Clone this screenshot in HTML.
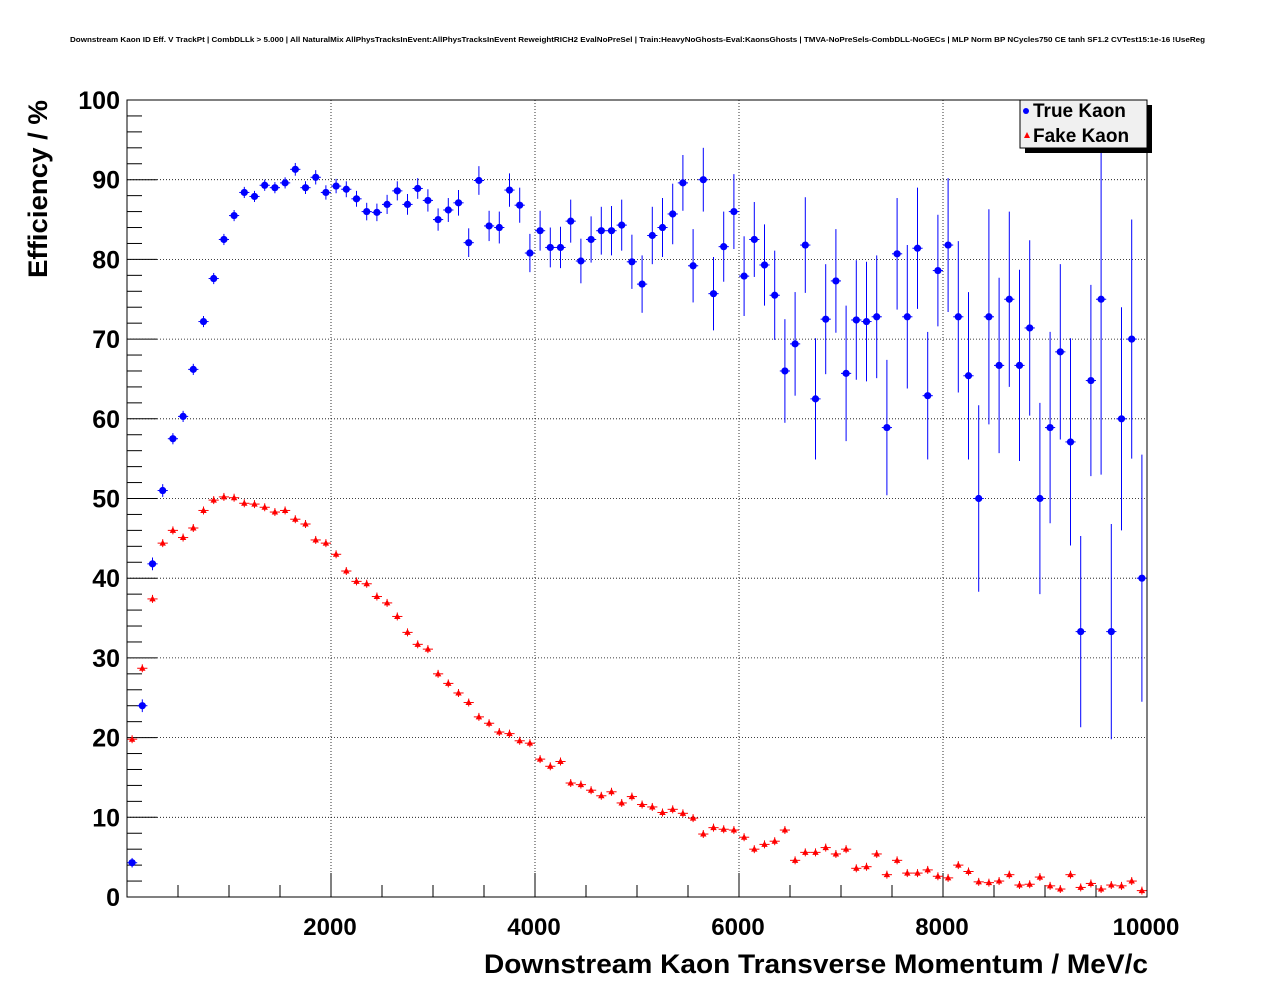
<!DOCTYPE html>
<html><head><meta charset="utf-8"><style>
html,body{margin:0;padding:0;background:#fff;}
svg{display:block;font-family:"Liberation Sans",Arial,sans-serif;}
</style></head><body>
<svg id="chart" width="1276" height="996" viewBox="0 0 1276 996">
<rect width="1276" height="996" fill="#fff"/>
<text x="70" y="42" font-size="7.5" font-weight="bold" textLength="1135" lengthAdjust="spacingAndGlyphs">Downstream Kaon ID Eff. V TrackPt | CombDLLk &gt; 5.000 | All NaturalMix AllPhysTracksInEvent:AllPhysTracksInEvent ReweightRICH2 EvalNoPreSel | Train:HeavyNoGhosts-Eval:KaonsGhosts | TMVA-NoPreSels-CombDLL-NoGECs | MLP Norm BP NCycles750 CE tanh SF1.2 CVTest15:1e-16 !UseReg</text>
<g id="grid"></g>
<g id="axes"></g>
<g id="series"></g>
<rect x="127" y="100" width="1020" height="797" fill="none" stroke="#000" stroke-width="1"/>
<text transform="translate(47,278) rotate(-90)" font-size="27" font-weight="bold" textLength="178" lengthAdjust="spacingAndGlyphs">Efficiency / %</text>
<text x="484" y="973" font-size="27" font-weight="bold" textLength="664" lengthAdjust="spacingAndGlyphs">Downstream Kaon Transverse Momentum / MeV/c</text>
<g>
<rect x="1025" y="105" width="127" height="48" fill="#000"/>
<rect x="1020" y="100" width="127" height="48" fill="#f0f0f0" stroke="#000"/>
<g><circle cx="1026" cy="111" r="3" fill="#0000ff"/><text x="1033" y="117" font-size="19" font-weight="bold">True Kaon</text></g>
<g><polygon points="1027,132 1030,138 1024,138" fill="#ff0000"/><text x="1033" y="142" font-size="19" font-weight="bold">Fake Kaon</text></g>
</g>
</svg>
<script>
const binCenters = Array.from({length:100},(_, i)=>50+100*i);
const trueEff = [4.3,24,41.8,51,57.5,60.3,66.2,72.2,77.6,82.5,
85.5,88.4,87.9,89.3,89.0,89.6,91.3,89.0,90.3,88.4,
89.2,88.8,87.6,86.0,85.9,86.9,88.6,86.9,88.9,87.4,
85.0,86.2,87.1,82.1,89.9,84.2,84.0,88.7,86.8,80.8,
83.6,81.5,81.5,84.8,79.8,82.5,83.6,83.6,84.3,79.7,
76.9,83.0,84.0,85.7,89.6,79.2,90.0,75.7,81.6,86.0,
77.9,82.5,79.3,75.5,66.0,69.4,81.8,62.5,72.5,77.3,
65.7,72.4,72.2,72.8,58.9,80.7,72.8,81.4,62.9,78.6,
81.8,72.8,65.4,50.0,72.8,66.7,75.0,66.7,71.4,50.0,
58.9,68.4,57.1,33.3,64.8,75.0,33.3,60.0,70.0,40.0];
const trueErr = [0.6,0.8,0.8,0.8,0.7,0.7,0.7,0.7,0.7,0.7,
0.7,0.7,0.7,0.7,0.7,0.7,0.8,0.8,0.9,0.9,
0.9,1.0,1.0,1.1,1.1,1.2,1.2,1.3,1.3,1.4,
1.4,1.5,1.6,1.8,1.8,1.9,2.0,2.1,2.2,2.4,
2.5,2.5,2.6,2.7,2.8,2.9,3.0,3.1,3.2,3.4,
3.6,3.6,3.7,3.8,3.5,4.6,4.0,4.6,4.4,4.7,
5.0,4.7,5.1,5.6,6.5,6.5,6.0,7.6,6.9,6.5,
8.5,7.5,7.5,7.7,8.5,7.0,9.0,7.6,8.0,7.0,
8.4,9.5,10.5,11.7,13.5,11.0,11.0,12.0,11.0,12.0,
12.0,11.0,13.0,12.0,12.0,22.0,13.5,14.0,15.0,15.5];
const fakeEff = [19.8,28.7,37.4,44.4,46.0,45.1,46.3,48.5,49.8,50.2,
50.1,49.4,49.3,48.9,48.3,48.5,47.4,46.8,44.8,44.4,
43.0,40.9,39.6,39.3,37.7,36.9,35.2,33.2,31.7,31.1,
28.0,26.8,25.6,24.4,22.6,21.8,20.7,20.5,19.6,19.3,
17.3,16.4,17.0,14.3,14.1,13.4,12.7,13.2,11.8,12.6,
11.6,11.3,10.6,11.0,10.5,9.9,7.9,8.7,8.5,8.4,
7.5,6.0,6.6,7.0,8.4,4.6,5.6,5.6,6.2,5.4,
6.0,3.6,3.8,5.4,2.8,4.6,3.0,3.0,3.4,2.6,
2.4,4.0,3.2,1.9,1.8,2.0,2.8,1.5,1.6,2.5,
1.4,1.0,2.8,1.2,1.7,1.0,1.5,1.4,2.0,0.8];
const fakeErr = binCenters.map(()=>0.5);
const xTicks = [2000,4000,6000,8000,10000];
const xTickLabels = ["2000","4000","6000","8000","10000"];
const yTicks = [0,10,20,30,40,50,60,70,80,90,100];
const yTickLabels = ["0","10","20","30","40","50","60","70","80","90","100"];

const NS="http://www.w3.org/2000/svg";
const X0=127,X1=1147,Y0=897,Y1=100;
const xs=v=>X0+(v/10000)*(X1-X0);
const ys=v=>Y0-(v/100)*(Y0-Y1);
function mk(tag,attrs,parent){const e=document.createElementNS(NS,tag);for(const k in attrs)e.setAttribute(k,attrs[k]);parent.appendChild(e);return e;}
const grid=document.getElementById('grid'),axes=document.getElementById('axes'),series=document.getElementById('series');

xTicks.forEach((t,i)=>{
  const x=xs(t);
  const gl=mk('line',{x1:x,x2:x,y1:Y1,y2:Y0,stroke:'#000','stroke-dasharray':'1,2','stroke-width':0.8},grid);
  
  
  const tk=mk('line',{x1:x,x2:x,y1:Y0,y2:Y0-24,stroke:'#000'},axes);
  
  
  const lb=mk('text',{x:x-1,y:935,'font-size':24,'font-weight':'bold','text-anchor':'middle'},axes);
  lb.textContent=xTickLabels[i];
  
  
});
for(let v=500;v<10000;v+=500){if(v%2000===0)continue;
  const m=mk('line',{x1:xs(v),x2:xs(v),y1:Y0,y2:Y0-12,stroke:'#000'},axes);
  
  
}
yTicks.forEach((t,i)=>{
  const y=ys(t);
  if(t>0&&t<100){const gl=mk('line',{x1:X0,x2:X1,y1:y,y2:y,stroke:'#000','stroke-dasharray':'1,2','stroke-width':0.8},grid);
  
  }
  const tk=mk('line',{x1:X0,x2:X0+30,y1:y,y2:y,stroke:'#000'},axes);
  
  
  const lb=mk('text',{x:120,y:y+9,'font-size':25,'font-weight':'bold','text-anchor':'end'},axes);
  lb.textContent=yTickLabels[i];
  
  
});
for(let v=2;v<100;v+=2){if(v%10===0)continue;
  const m=mk('line',{x1:X0,x2:X0+15,y1:ys(v),y2:ys(v),stroke:'#000'},axes);
  
  
}
function drawSeries(vals,errs,color,shape,name){
  const g=mk('g',{},series);
  
  
  vals.forEach((v,i)=>{
    const c=binCenters[i],x=xs(c),y=ys(v);
    mk('line',{x1:xs(c-50),x2:xs(c+50),y1:y,y2:y,stroke:color,'stroke-width':1},g);
    mk('line',{x1:x,x2:x,y1:ys(Math.max(0,v-errs[i])),y2:ys(Math.min(100,v+errs[i])),stroke:color,'stroke-width':1},g);
    let p;
    if(shape==='circle')p=mk('circle',{cx:x,cy:y,r:3.6,fill:color},g);
    else p=mk('polygon',{points:`${x},${y-3.5} ${x+3.2},${y+2.5} ${x-3.2},${y+2.5}`,fill:color},g);
    
    
  });
}
drawSeries(fakeEff,fakeErr,'#ff0000','tri','fake-kaon-series');
drawSeries(trueEff,trueErr,'#0000ff','circle','true-kaon-series');
</script>
</body></html>
